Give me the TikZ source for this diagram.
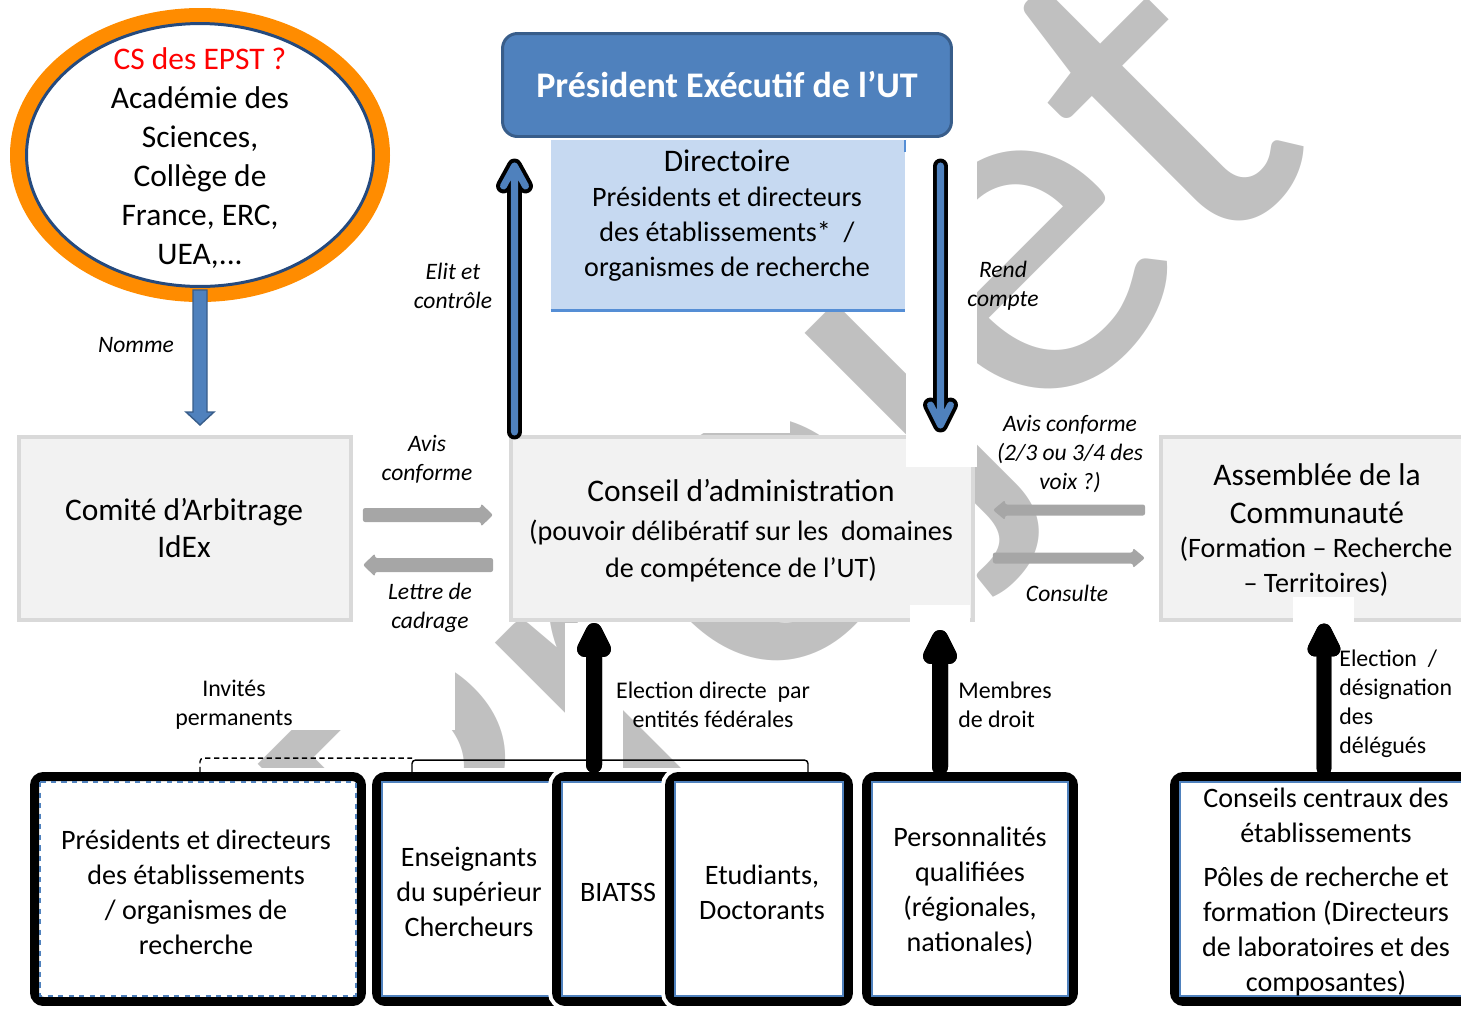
\documentclass[tikz,border=0pt]{standalone}
\usepackage{fontspec}
\setmainfont{Carlito}
\usetikzlibrary{calc,shapes.geometric}
\definecolor{ora}{HTML}{FF8C00}
\definecolor{navy}{HTML}{254A7E}
\definecolor{tblue}{HTML}{4F81BD}
\definecolor{tbord}{HTML}{385D8A}
\definecolor{dirfill}{HTML}{C6D9F1}
\definecolor{dirline}{HTML}{558ED5}
\definecolor{boxfill}{HTML}{F2F2F2}
\definecolor{boxline}{HTML}{D9D9D9}
\definecolor{gry}{HTML}{A6A6A6}
\definecolor{wmc}{HTML}{C0C0C0}
\tikzset{
 big/.style={font=\fontsize{17.9}{22.2}\selectfont, align=center, inner sep=0},
 med/.style={font=\fontsize{16}{19.9}\selectfont, align=center, inner sep=0},
 lab/.style={font=\fontsize{13.6}{16.5}\selectfont, align=center, inner sep=0},
 ital/.style={font=\fontsize{13.4}{16.5}\itshape\selectfont, align=center, inner sep=0},
 gbox/.style={rectangle, fill=boxfill, draw=boxline, line width=2.3pt, minimum width=#1, minimum height=3.66cm, inner sep=0},
 bbox/.style={rectangle, rounded corners=5pt, fill=white, draw=black, line width=5.1pt, preaction={draw=white, line width=9.6pt}, minimum width=#1, minimum height=4.5cm, inner sep=0},
 inb/.style={draw=tblue, line width=0.8pt},
 brk/.style={line width=0.8pt, rounded corners=2pt},
}
\newcommand\chev[7]{% start, tip, dx, dy, outer width, inner width, inner colour
 \draw[line width=#5, black, line cap=round, line join=round] (#1) -- (#2) ($(#2)+(-#3,#4)$) -- (#2) -- ($(#2)+(#3,#4)$);
 \draw[line width=#6, #7, line cap=round, line join=round] (#1) -- (#2) ($(#2)+(-#3,#4)$) -- (#2) -- ($(#2)+(#3,#4)$);}
\newcommand\garr[4]{% tail, tip, direction (+1 right, -1 left), half shaft
 \fill[gry, rounded corners=1.2pt] ($(#1)+(0,-#4)$) -- ($(#2)+(-12*#3,-#4)$) -- ($(#2)+(-12*#3,-#4-4.5)$) -- (#2) -- ($(#2)+(-12*#3,#4+4.5)$) -- ($(#2)+(-12*#3,#4)$) -- ($(#1)+(0,#4)$) -- cycle;}
\begin{document}
\begin{tikzpicture}[x=0.02cm, y=-0.02cm]
\useasboundingbox (0,0) rectangle (1461,1009);
% watermark
\node[text=wmc, font=\fontsize{284.5}{300}\selectfont, rotate=45, anchor=base west, inner sep=0] (wmk) at (459,1017) {Projet};
% ellipse
\fill[ora] (200,155) ellipse [x radius=190, y radius=147];
\node[ellipse, fill=white, draw=navy, line width=1.7pt, minimum width=6.94cm, minimum height=5.26cm, inner sep=0] (cs) at (200,155) {};
\node[big] (cst) at (200,158.5) {\textcolor{red}{CS des EPST ?}\\Académie des\\Sciences,\\Collège de\\France, ERC,\\UEA,...};
% title and directoire
\node[rectangle, fill=dirfill, minimum width=7.08cm, minimum height=3.4cm, inner sep=0] (dir) at (728,225) {};
\draw[dirline, line width=1.7pt] (dir.south west) -- (dir.south east);
\draw[dirline, line width=1.7pt] (dir.north east) -- ($(dir.north east)+(0,12)$);
\node[rectangle, rounded corners=8.5pt, fill=tblue, draw=tbord, line width=1.7pt, minimum width=8.98cm, minimum height=2.06cm, inner sep=0, text=white, font=\fontsize{20.5}{24}\bfseries\selectfont] (pe) at (727,85) {Président Exécutif de l’UT};
\node[big] (dirt1) at (727,161) {Directoire};
\node[med] (dirt2) at (727,233.8) {Présidents et directeurs\\des établissements*\ \ /\\organismes de recherche};
% grey boxes
\node[gbox=6.64cm] (cmt) at (185,528.5) {};
\node[big, font=\fontsize{17.9}{21.6}\selectfont] (cmtt) at (184,528) {Comité d’Arbitrage\\IdEx};
\node[gbox=9.24cm] (ca) at (742,528.5) {};
\node[big] (cat1) at (741,491) {Conseil d’administration};
\node[med, font=\fontsize{16}{21.6}\selectfont] (cat2) at (741,551) {(pouvoir délibératif sur les\ \ domaines\\de compétence de l’UT)};
\node[gbox=6.24cm] (asm) at (1317,528.5) {};
\node[big, font=\fontsize{17.9}{21.6}\selectfont] (asmt1) at (1317,494) {Assemblée de la\\Communauté};
\node[med] (asmt2) at (1316,566.5) {(Formation – Recherche\\– Territoires)};
% white patches
\fill[white] (906,140) rectangle (977,467);
\fill[white] (910,605) rectangle (970,626);
\fill[white] (1293,597) rectangle (1354,626);
\fill[white] (565,623) rectangle (623,768);
\fill[white] (150,625) rectangle (455,730);
\fill[white] (551,312) rectangle (790,433);
% bottom boxes
\node[bbox=6.54cm] (b1) at (198,889) {};
\draw[inb, dashed] ($(b1.north west)+(10,10)$) rectangle ($(b1.south east)+(-10,-10)$);
\node[bbox=4.38cm] (b2) at (486,889) {};
\draw[inb] ($(b2.north west)+(10,10)$) rectangle ($(b2.south east)+(-10,-10)$);
\node[bbox=2.78cm] (b3) at (626,889) {};
\draw[inb] ($(b3.north west)+(10,10)$) rectangle ($(b3.south east)+(-10,-10)$);
\node[bbox=3.58cm] (b4) at (759,889) {};
\draw[inb] ($(b4.north west)+(10,10)$) rectangle ($(b4.south east)+(-10,-10)$);
\node[bbox=4.14cm] (b5) at (970,889) {};
\draw[inb] ($(b5.north west)+(10,10)$) rectangle ($(b5.south east)+(-10,-10)$);
\node[bbox=6.02cm] (b6) at (1325,889) {};
\draw[inb] ($(b6.north west)+(10,10)$) rectangle ($(b6.south east)+(-10,-10)$);
\node[med] (b1t) at (196,892) {Présidents et directeurs\\des établissements\\/ organismes de\\recherche};
\node[med] (b2t) at (469,892) {Enseignants\\du supérieur\\Chercheurs};
\node[med] (b3t) at (618,892) {BIATSS};
\node[med] (b4t) at (762,892.5) {Etudiants,\\Doctorants};
\node[med] (b5t) at (970,891.5) {Personnalités\\qualifiées\\(régionales,\\nationales)};
\node[med] (b6t1) at (1326,815) {Conseils centraux des\\établissements};
\node[med] (b6t2) at (1326,931.5) {Pôles de recherche et\\formation (Directeurs\\de laboratoires et des\\composantes)};
% brackets
\coordinate (bk1) at ($(200,0 |- b1.north)+(0,0)$);
\coordinate (bk2) at ($(412,0 |- b2.north)+(0,0)$);
\coordinate (bk3) at ($(808,0 |- b4.north)+(0,0)$);
\draw[brk, dashed, dash pattern=on 3pt off 2pt] (bk1) -- ($(bk1)+(0,-14)$) -- ($(bk2)+(0,-14)$);
\draw[brk] (bk2) -- ($(bk2)+(0,-12)$) -- ($(bk3)+(0,-12)$) -- (bk3);
% Nomme arrow
\coordinate (nmA) at (cs.south);
\coordinate (nmB) at ($(cs.south |- cmt.north)+(0,-10)$);
\draw[fill=tblue, draw=tbord, line width=0.8pt] ($(nmA)+(-7,2)$) -- ($(nmB)+(-7,-13)$) -- ($(nmB)+(-14,-13)$) -- (nmB) -- ($(nmB)+(14,-13)$) -- ($(nmB)+(7,-13)$) -- ($(nmA)+(7,2)$) -- cycle;
% Elit / Rend arrows
\coordinate (elA) at ($(514.5,0 |- ca.north)+(0,-3)$);
\coordinate (elB) at ($(514.5,0 |- pe.south)+(0,28)$);
\chev{elA}{elB}{11}{20}{8.5pt}{4pt}{tblue}
\coordinate (rcA) at ($(940.5,0 |- pe.south)+(0,28)$);
\coordinate (rcB) at ($(940.5,0 |- ca.north)+(0,-10)$);
\chev{rcA}{rcB}{10}{-20}{8.5pt}{4pt}{tblue}
% black arrows
\coordinate (edA) at ($(594,0 |- b3.north)+(0,-7)$);
\coordinate (edB) at ($(594,0 |- ca.south)+(0,9)$);
\chev{edA}{edB}{9}{18}{9.1pt}{9.1pt}{black}
\coordinate (mdA) at ($(940,0 |- b5.north)+(0,-5)$);
\coordinate (mdB) at ($(940,0 |- ca.south)+(0,16)$);
\chev{mdA}{mdB}{9}{18}{9.1pt}{9.1pt}{black}
\coordinate (dgA) at ($(1324,0 |- b6.north)+(0,-4)$);
\coordinate (dgB) at ($(1324,0 |- asm.south)+(0,9)$);
\chev{dgA}{dgB}{9}{18}{8.5pt}{8.5pt}{black}
% grey arrows
\coordinate (g1a) at ($(cmt.east)+(10,-13.5)$);
\coordinate (g1b) at ($(ca.west)+(-16,-13.5)$);
\garr{g1a}{g1b}{1}{7}
\coordinate (g2a) at ($(ca.west)+(-16,36.5)$);
\coordinate (g2b) at ($(cmt.east)+(10,36.5)$);
\garr{g2a}{g2b}{-1}{7}
\coordinate (g3a) at ($(asm.west)+(-14,-18.5)$);
\coordinate (g3b) at ($(ca.east)+(18,-18.5)$);
\garr{g3a}{g3b}{-1}{5.5}
\coordinate (g4a) at ($(ca.east)+(18,29.5)$);
\coordinate (g4b) at ($(asm.west)+(-14,29.5)$);
\garr{g4a}{g4b}{1}{5.5}
% labels
\node[ital] (l1) at (453,285.5) {Elit et\\contrôle};
\node[ital] (l2) at (1003,285.5) {Rend\\compte};
\node[ital] (l3) at (136,345) {Nomme};
\node[ital] (l4) at (427,459.5) {Avis\\conforme};
\node[ital] (l5) at (430,607.5) {Lettre de\\cadrage};
\node[ital] (l6) at (1070,454) {Avis conforme\\(2/3 ou 3/4 des\\voix ?)};
\node[ital] (l7) at (1067,593) {Consulte};
\node[lab] (l8) at (234,704.5) {Invités\\permanents};
\node[lab] (l9) at (713,704.5) {Election directe\ \ par\\entités fédérales};
\node[lab, align=left, anchor=west] (l10) at (958,704.5) {Membres\\de droit};
\node[lab, align=left, anchor=west] (l11) at (1339,703.5) {Election\ \ /\\désignation\\des\\délégués};
\end{tikzpicture}
\end{document}
